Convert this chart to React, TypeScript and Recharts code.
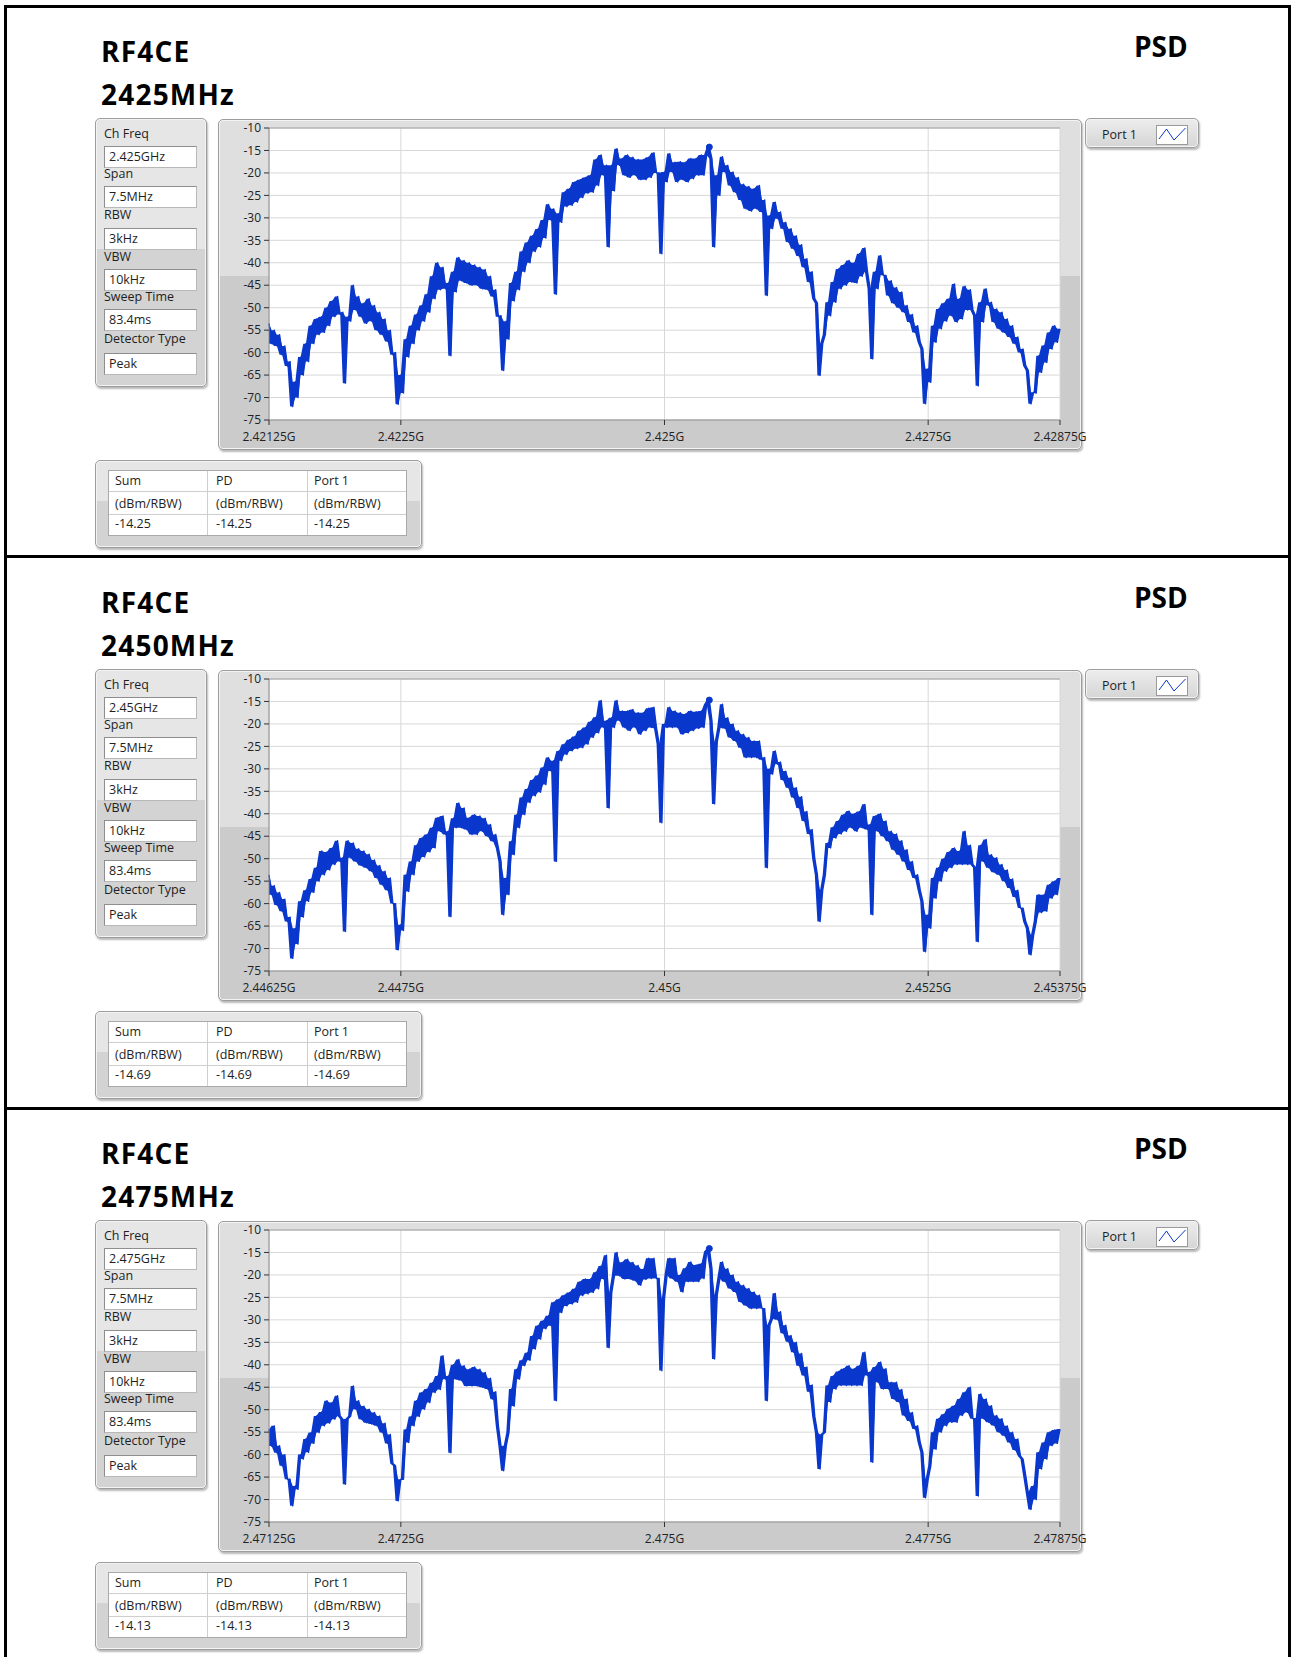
import React from 'react'
import { ComposedChart, Area, Line, XAxis, YAxis, CartesianGrid, ReferenceDot, ReferenceLine } from 'recharts'

const UI_FONT = '"Open Sans", "Noto Sans", Arial, sans-serif'
const TRACE_BLUE = '#0a37cc'

// sweep bins: 7.5 MHz span in 25 kHz steps, as offset (MHz) from the start frequency
const binOffsets = Array.from({ length: 301 }, (_, i) => (i * 25) / 1000)

const levelTicks = [-10, -15, -20, -25, -30, -35, -40, -45, -50, -55, -60, -65, -70, -75]
const freqTickOffsets = [0, 1.25, 3.75, 6.25, 7.5]

const channelTitles = ['2425MHz', '2450MHz', '2475MHz']
const centerFreqs = ['2.425GHz', '2.45GHz', '2.475GHz']
const freqTicks2425 = ['2.42125G', '2.4225G', '2.425G', '2.4275G', '2.42875G']
const freqTicks2450 = ['2.44625G', '2.4475G', '2.45G', '2.4525G', '2.45375G']
const freqTicks2475 = ['2.47125G', '2.4725G', '2.475G', '2.4775G', '2.47875G']
const peakLevels = [-14.25, -14.69, -14.13]
const peakOffset = 4.175

const settingNames = ['Ch Freq', 'Span', 'RBW', 'VBW', 'Sweep Time', 'Detector Type']
const sharedSettings = ['7.5MHz', '3kHz', '10kHz', '83.4ms', 'Peak']
const resultHeaders = ['Sum', 'PD', 'Port 1']
const resultUnit = '(dBm/RBW)'

// peak-detected PSD, dBm/RBW, one value per bin
const psd2425 = [
  -53.5, -58, -55, -58.5, -56, -60.5, -58.5, -63, -62, -72,
  -66.5, -70, -61, -65, -58, -62, -54, -58, -52.5, -56,
  -52, -55.5, -50, -54, -48.5, -52, -47.5, -51.5, -51, -66.8,
  -52, -53, -45, -50.5, -47.5, -52, -49, -53.5, -48, -53,
  -49.5, -55, -51, -56, -52.5, -57.5, -55, -60.5, -60, -71.5,
  -65, -69, -57, -61, -54, -58, -51.5, -55, -49.5, -53,
  -47, -51, -43, -48, -40, -46, -41, -45.8, -44.5, -60.7,
  -42, -46.5, -38.8, -44, -39.5, -44.5, -40, -45, -40.5, -45,
  -41, -45.8, -41.5, -46, -43, -47.5, -46, -52, -51.8, -64,
  -53, -57, -44.5, -48.5, -42, -46, -37.5, -42, -35.5, -40,
  -34, -37.5, -32.5, -36.5, -30.5, -34.5, -27, -30.5, -28, -47,
  -29, -31, -24.3, -27.5, -23.5, -27.2, -22, -26.5, -21.5, -25.5,
  -21, -24.5, -20.5, -24.3, -17, -22.8, -16, -20.5, -18.3, -36.5,
  -18.3, -24, -14.6, -18.3, -16.8, -20.5, -16, -21, -16.5, -20.5,
  -17, -21.5, -17, -21.5, -16.5, -21, -15.5, -20, -20, -38,
  -19.8, -22, -15.7, -19.8, -17.6, -22, -17.5, -21.5, -17.6, -22,
  -16.8, -21.3, -16.8, -20.5, -16, -20.5, -16, -14.25, -16.8, -36.5,
  -20.5, -25, -16.4, -19.8, -18.3, -22.8, -19.8, -24.3, -21, -26,
  -22.5, -28, -23, -28.5, -23.5, -28, -22.8, -28.7, -26, -47.3,
  -29.5, -32.4, -26.5, -30.2, -28.7, -32.4, -31, -35.4, -32.4, -36.9,
  -34, -38.5, -36, -41, -39.1, -44.3, -42, -48, -49, -65.1,
  -58, -56, -48.8, -51.8, -44.3, -48.8, -41.4, -45.8, -40.5, -45,
  -39.5, -44.3, -40, -44.5, -38, -43, -36.7, -42, -45.8, -61.4,
  -42, -45.8, -38.4, -42.8, -42.8, -47.3, -44, -49, -45.5, -50,
  -46.5, -51, -49.5, -53.2, -51.5, -55.5, -54, -57.7, -59.2, -71.4,
  -63.6, -66.6, -54, -57.7, -50.3, -54.7, -49, -53, -48, -51.8,
  -44.7, -53.2, -48, -52.5, -45.2, -50.5, -46, -50.5, -51.8, -67.4,
  -48.8, -53.2, -45.8, -49.5, -48.8, -53.2, -50.3, -54.7, -51, -55.5,
  -52.5, -56.5, -54, -58, -56.5, -60, -59.2, -62.9, -64, -71.4,
  -68.8, -69, -60.7, -64.4, -58.4, -62.2, -55.5, -59.2, -54, -57.7,
  -54.7,
]

const psd2450 = [
  -53.6, -58, -56, -60.3, -57.5, -61.7, -59, -64, -63, -72.2,
  -65.5, -69, -59.5, -63, -57, -59.5, -54.5, -57.5, -52, -55,
  -48.3, -53.6, -48.5, -52.5, -47.6, -51.3, -46, -50.6, -49.8, -66.2,
  -46, -49.8, -46.5, -50.6, -47.8, -51.5, -48.3, -52, -49, -52.8,
  -50.3, -54.3, -51.5, -55.8, -52.8, -57, -54.3, -60, -60, -70.3,
  -64.7, -66, -53.6, -57.3, -50.6, -53.6, -47, -50.6, -45.4, -49.6,
  -44.6, -48.5, -43.1, -47.6, -40.9, -43.9, -40.5, -44.6, -43.9, -62.9,
  -41, -43.1, -37.6, -43.1, -38.7, -43.5, -40.9, -44.6, -40.2, -44.6,
  -40.5, -43.9, -41, -45, -42.4, -46.1, -44.6, -47.6, -50.6, -62.5,
  -54.3, -58, -46.1, -49.1, -40.2, -43.1, -36.4, -40.2, -34.5, -37.5,
  -32.5, -36, -31.5, -35.2, -29.7, -33.5, -27.5, -30.5, -28.2, -50.6,
  -26, -28.2, -24.5, -26.8, -23.5, -26, -22.8, -25.5, -21.5, -25.3,
  -20.8, -24.5, -19.5, -23, -18.5, -22, -14.8, -20.8, -19.3, -38.7,
  -18.6, -20.8, -14.8, -19.3, -17.1, -20.8, -17.1, -21.5, -16.8, -20.8,
  -17.5, -22.3, -17.5, -21.5, -16.5, -20.8, -16.3, -21, -24.5, -42,
  -20, -20.8, -16.3, -20.8, -17.1, -20.8, -17.5, -22.3, -17.8, -22,
  -17.1, -21.5, -17.3, -21, -17.1, -20.8, -15.6, -14.69, -19.3, -37.8,
  -24, -20.8, -15.6, -21, -18.6, -23, -20, -23.8, -21.5, -25.3,
  -22.3, -27.5, -23, -27.5, -23.8, -27.5, -23.8, -28, -27.5, -52,
  -30, -31.2, -26, -29, -28.5, -32.5, -30.5, -34.2, -32, -36.4,
  -34.2, -38.7, -36.2, -41.6, -39.5, -44.5, -43.5, -50, -53.6, -64,
  -57, -53.6, -46.5, -47.6, -43, -45.4, -41.6, -44.5, -40.2, -43.9,
  -39.4, -43.1, -40, -43.9, -39.5, -43.1, -37.9, -43.5, -42.4, -62.5,
  -40.5, -43.9, -40, -45, -41.6, -46.1, -43.9, -48, -44.5, -49.1,
  -46, -50.6, -48, -52.5, -50.6, -54.3, -53.6, -57, -59.5, -70.7,
  -62.5, -65.5, -54.3, -58.8, -52, -55, -50, -52.8, -48.5, -52,
  -47.6, -51.3, -48.3, -51.3, -43.9, -51.3, -47, -51.3, -52, -68.5,
  -47, -50.6, -45.7, -52, -49.1, -53, -49.8, -53.6, -51.3, -55,
  -52.5, -56.5, -54.5, -58.5, -57, -61, -61, -64, -65.5, -71.4,
  -67, -64, -58, -62, -58, -61.7, -55.8, -58.8, -55, -58,
  -54.3,
]

const psd2475 = [
  -54.4, -58.1, -53.6, -59.6, -58, -62.5, -60, -65.5, -65.5, -71.4,
  -67, -67.7, -60, -61, -56.5, -59.5, -55.1, -57.5, -51.4, -55.1,
  -50.5, -53.6, -48, -53, -48.4, -52.1, -46.9, -51.4, -52.1, -66.6,
  -52, -51.4, -44.7, -49.9, -48, -52.1, -49.2, -52.9, -49.9, -53.2,
  -50.6, -53.6, -51.4, -55.1, -53, -57.5, -55.5, -62, -62.5, -70.3,
  -65.5, -65.5, -54.4, -57.3, -51.5, -53.6, -48, -51.5, -46.2, -49.9,
  -45.4, -48.4, -44, -46.2, -42.5, -45.5, -38, -43.2, -42.5, -59.6,
  -40, -43.2, -38.8, -43.5, -40.2, -44.7, -41, -44.7, -40.5, -44.7,
  -41, -45, -41.7, -45.4, -43, -47.7, -46, -53.6, -58.1, -63.6,
  -58, -55.1, -45.4, -49.2, -41, -43.2, -39, -40.2, -37.3, -39,
  -33.6, -36.5, -31.3, -34.3, -30.2, -32, -29.1, -31.3, -26.1, -48,
  -25.4, -28.4, -24.5, -26.9, -23.9, -26.5, -23.1, -26.1, -21.5, -24.6,
  -20.9, -24.2, -20.9, -23.9, -19.4, -23.1, -18, -20.9, -15.6, -36.2,
  -23.9, -20.2, -15, -20.2, -17.2, -20.9, -16.5, -20.9, -17.2, -21.3,
  -17.9, -22.3, -18.7, -21, -16.3, -20.8, -16.3, -20.8, -20.8, -41.3,
  -25.3, -20, -16.3, -20.8, -16.3, -21.5, -20, -23.8, -18.5, -21.5,
  -17.1, -21.5, -17.8, -21.5, -17.5, -20.8, -14.8, -14.13, -18.6, -38.7,
  -24.5, -20.8, -17.1, -21.5, -18.6, -23, -20, -23.8, -21.5, -26,
  -22.3, -26.8, -23, -27.5, -23.8, -27.5, -24.5, -27.5, -27.5, -48,
  -31.2, -29.7, -24.1, -30, -28.2, -33, -31.2, -34.9, -33.5, -37.2,
  -35, -40.2, -37.5, -42.4, -40.5, -46, -44.5, -51.5, -55, -63.2,
  -55.5, -55, -44.6, -48.3, -42.5, -45.4, -41.5, -44.6, -40.9, -44.6,
  -40.2, -44.6, -40.9, -44.6, -40.2, -44.6, -37.2, -42.4, -41.6, -61.7,
  -40.5, -43.9, -39.4, -45.4, -40.9, -45.4, -43.9, -47.6, -43.9, -48.3,
  -45.5, -51.3, -47.6, -52.5, -50.6, -54.3, -53.6, -57.3, -59.5, -69.6,
  -65.5, -62.5, -55, -58.8, -52, -55, -51, -53.6, -49.8, -52.8,
  -49.1, -52.8, -47.6, -51.3, -46.1, -50.6, -45, -52, -52, -69.2,
  -46.5, -52, -47.6, -52.8, -49.1, -53.5, -51.3, -55, -52, -55.8,
  -53.6, -57.3, -55, -59, -56.5, -60.3, -61, -64.7, -68.5, -72.2,
  -67, -70, -59.5, -63.2, -57.3, -61, -55, -58, -54.5, -57.5,
  -54.3,
]

const traces = [psd2425, psd2450, psd2475]
const freqTickSets = [freqTicks2425, freqTicks2450, freqTicks2475]

const PANEL_STEP = 551
const labelTops = [128, 168, 209, 251, 291, 333]
const fieldTops = [146, 186, 228, 269, 309, 353]

const abs: React.CSSProperties = { position: 'absolute', boxSizing: 'border-box' }
const heading: React.CSSProperties = {
  ...abs, fontFamily: UI_FONT, fontWeight: 700, fontSize: 28, lineHeight: 1,
  letterSpacing: 1.2, color: '#000', whiteSpace: 'nowrap',
}
const small: React.CSSProperties = {
  ...abs, fontFamily: UI_FONT, fontSize: 12.5, lineHeight: 1, color: '#1e1e1e', whiteSpace: 'nowrap',
}
const cluster: React.CSSProperties = {
  ...abs, border: '1px solid #9d9d9d', borderRadius: 5,
  boxShadow: '1px 2px 2px rgba(0,0,0,0.28), inset 0 0 0 1px #f3f3f3',
}

function Panel({ index }: { index: number }) {
  const dy = index * PANEL_STEP
  const trace = traces[index]
  // each row also carries the vertical extent of the trace segment to the next bin,
  // so the dense sweep reads as a solid band
  const rows = binOffsets.map((f, k) => {
    const next = trace[Math.min(k + 1, trace.length - 1)]
    return { f, level: trace[k], band: [Math.min(trace[k], next), Math.max(trace[k], next)] }
  })
  const tickLabels = freqTickSets[index]
  const settingValues = [centerFreqs[index], ...sharedSettings]
  const peakText = peakLevels[index].toFixed(2)

  return (
    <>
      <div style={{ ...heading, left: 101, top: 37 + dy }}>RF4CE</div>
      <div style={{ ...heading, left: 101, top: 80 + dy }}>{channelTitles[index]}</div>
      <div style={{ ...heading, left: 1134, top: 32 + dy, letterSpacing: 0 }}>PSD</div>

      {/* settings cluster */}
      <div
        style={{
          ...cluster, left: 95, top: 118 + dy, width: 112, height: 269,
          background: 'linear-gradient(#e6e6e6 0px, #e6e6e6 130px, #d3d3d3 130px)',
        }}
      />
      {settingNames.map((name, k) => (
        <React.Fragment key={name}>
          <div style={{ ...small, left: 104, top: labelTops[k] + dy }}>{name}</div>
          <div
            style={{
              ...small, left: 104, top: fieldTops[k] + dy, width: 93, height: 22,
              lineHeight: '20px', paddingLeft: 4, background: '#fff',
              border: '1px solid #b8b8b8', borderTopColor: '#8e8e8e', borderLeftColor: '#8e8e8e',
            }}
          >
            {settingValues[k]}
          </div>
        </React.Fragment>
      ))}

      {/* graph frame */}
      <div
        style={{
          ...cluster, left: 218, top: 119 + dy, width: 864, height: 331,
          background: 'linear-gradient(#dfdfdf 0px, #dfdfdf 156px, #cbcbcb 156px)',
        }}
      />
      <div style={{ ...abs, left: 218, top: 119 + dy }}>
        <ComposedChart width={890} height={331} data={rows} margin={{ top: 9, right: 48, bottom: 0, left: 0 }}>
          <CartesianGrid stroke="#d8d8d8" fill="#ffffff" fillOpacity={1} />
          <XAxis
            dataKey="f" type="number" domain={[0, 7.5]} ticks={freqTickOffsets} interval={0}
            tickFormatter={(v: number) => tickLabels[freqTickOffsets.indexOf(v)]}
            height={30} tickSize={5} tickMargin={7}
            axisLine={{ stroke: '#8a8a8a' }} tickLine={{ stroke: '#333' }}
            tick={{ fontSize: 12, fill: '#222', fontFamily: UI_FONT }}
          />
          <YAxis
            type="number" domain={[-75, -10]} ticks={levelTicks} interval={0} width={51}
            tickSize={5} tickMargin={3}
            axisLine={{ stroke: '#8a8a8a' }} tickLine={{ stroke: '#333' }}
            tick={{ fontSize: 12, fill: '#222', fontFamily: UI_FONT }}
          />
          <ReferenceLine y={-10} stroke="#a0a0a0" />
          <Area
            type="linear" dataKey="band" stroke="none" fill={TRACE_BLUE} fillOpacity={1}
            dot={false} activeDot={false} isAnimationActive={false}
          />
          <Line
            type="linear" dataKey="level" stroke={TRACE_BLUE} strokeWidth={1.4}
            strokeLinejoin="round" dot={false} isAnimationActive={false}
          />
          <ReferenceDot x={peakOffset} y={peakLevels[index]} r={3} fill={TRACE_BLUE} stroke={TRACE_BLUE} />
        </ComposedChart>
      </div>

      {/* plot legend */}
      <div
        style={{
          ...cluster, left: 1085, top: 118 + dy, width: 114, height: 30,
          background: 'linear-gradient(#ededed, #d5d5d5)',
        }}
      >
        <div style={{ ...small, left: 16, top: 10 }}>Port 1</div>
        <svg style={{ position: 'absolute', left: 70, top: 6 }} width={32} height={20}>
          <rect x={0.5} y={0.5} width={31} height={19} fill="#fff" stroke="#9a9a9a" />
          <polyline points="3,14 10.5,4 18,15 29.5,3" fill="none" stroke={TRACE_BLUE} strokeWidth={1} />
        </svg>
      </div>

      {/* results table */}
      <div
        style={{
          ...cluster, left: 95, top: 460 + dy, width: 327, height: 88,
          background: 'linear-gradient(#e6e6e6 0px, #e6e6e6 40px, #d3d3d3 40px)',
        }}
      />
      <div
        style={{
          ...abs, left: 108, top: 470 + dy, width: 299, height: 66,
          background: '#fff', border: '1px solid #a9a9a9',
        }}
      />
      {[491, 514].map((y) => (
        <div key={y} style={{ ...abs, left: 109, top: y + dy, width: 297, height: 1, background: '#cfcfcf' }} />
      ))}
      {[207, 307].map((x) => (
        <div key={x} style={{ ...abs, left: x, top: 471 + dy, width: 1, height: 64, background: '#cfcfcf' }} />
      ))}
      {resultHeaders.map((h, c) => {
        const x = [115, 216, 314][c]
        return (
          <React.Fragment key={h}>
            <div style={{ ...small, left: x, top: 475 + dy }}>{h}</div>
            <div style={{ ...small, left: x, top: 498 + dy }}>{resultUnit}</div>
            <div style={{ ...small, left: x, top: 518 + dy }}>{peakText}</div>
          </React.Fragment>
        )
      })}
    </>
  )
}

export default function App() {
  return (
    <div style={{ position: 'absolute', left: 0, top: 0, width: 1292, height: 1657, background: '#fff', overflow: 'hidden' }}>
      {/* outer black frame and panel separators */}
      <div style={{ ...abs, left: 4, top: 5, width: 1287, height: 3, background: '#000' }} />
      <div style={{ ...abs, left: 4, top: 5, width: 3, height: 1652, background: '#000' }} />
      <div style={{ ...abs, left: 1288, top: 5, width: 3, height: 1652, background: '#000' }} />
      <div style={{ ...abs, left: 4, top: 555, width: 1287, height: 3, background: '#000' }} />
      <div style={{ ...abs, left: 4, top: 1107, width: 1287, height: 3, background: '#000' }} />
      {[0, 1, 2].map((i) => (
        <Panel key={i} index={i} />
      ))}
    </div>
  )
}
